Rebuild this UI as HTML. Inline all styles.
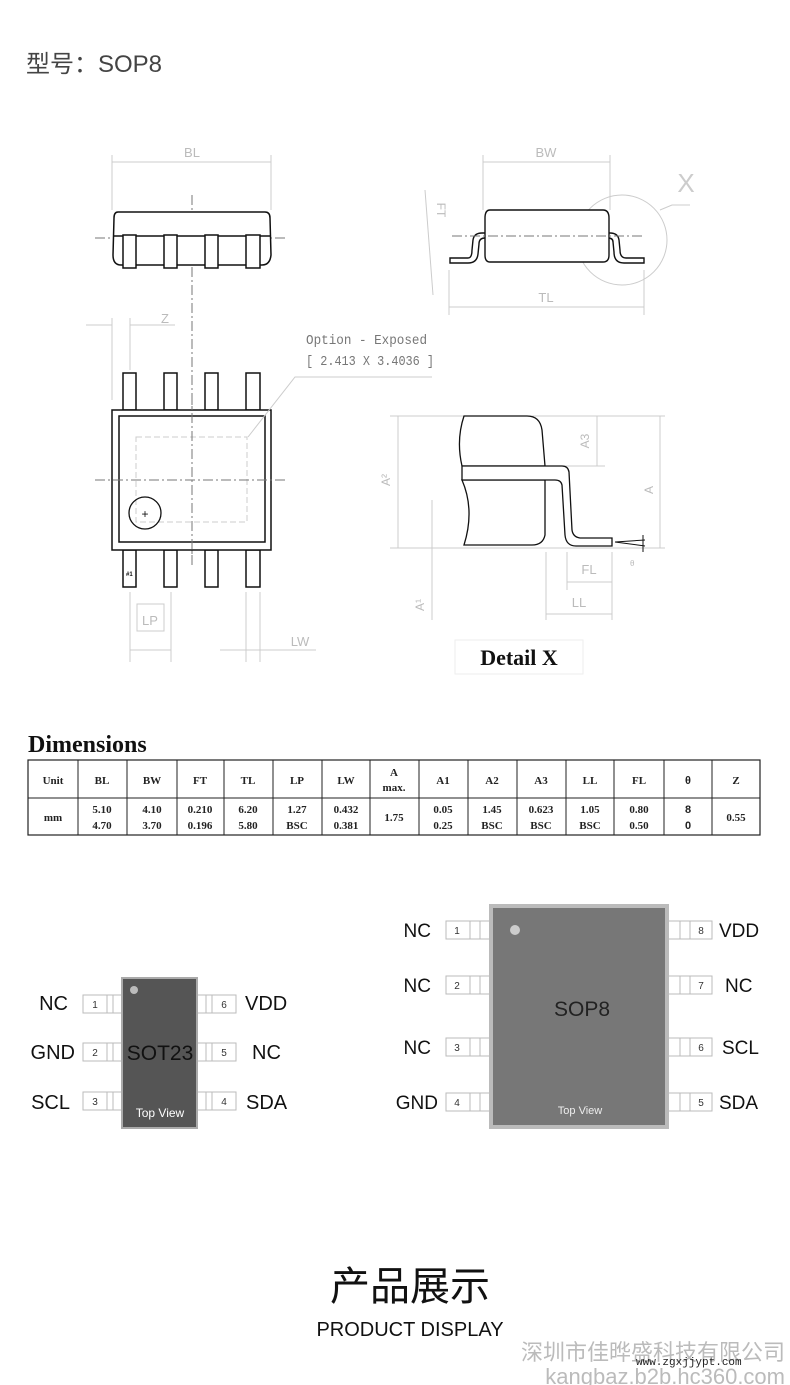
<!DOCTYPE html>
<html><head><meta charset="utf-8"><style>
html,body{margin:0;padding:0;background:#fff;}
svg{display:block}
</style></head><body>
<svg width="790" height="1385" viewBox="0 0 790 1385" xmlns="http://www.w3.org/2000/svg" font-family="Liberation Sans, sans-serif">
<text x="26" y="72" font-size="24" fill="#444" font-family="Liberation Sans, Noto Sans CJK SC, sans-serif">型号：SOP8</text>

<!-- ===== Top-left side view ===== -->
<g stroke="#ccc" stroke-width="1" fill="none">
<line x1="112" y1="155" x2="112" y2="210"/><line x1="271" y1="155" x2="271" y2="210"/>
<line x1="112" y1="162" x2="271" y2="162"/>
</g>
<text x="192" y="157" font-size="13" fill="#bbb" text-anchor="middle">BL</text>
<g stroke="#777" stroke-width="1" stroke-dasharray="10,3,2,3" fill="none">
<line x1="192" y1="195" x2="192" y2="565"/>
<line x1="95" y1="238" x2="288" y2="238"/>
<line x1="95" y1="480" x2="288" y2="480"/>
</g>
<g stroke="#111" stroke-width="1.5" fill="#fff">
<path d="M118 212 L265 212 Q270 212 270 218 L271 255 Q270 265 262 265 L121 265 Q113 265 113 255 L114 218 Q114 212 118 212 Z"/>
<line x1="114" y1="236" x2="270" y2="236"/>
<rect x="123" y="235" width="13" height="33"/><rect x="164" y="235" width="13" height="33"/>
<rect x="205" y="235" width="13" height="33"/><rect x="246" y="235" width="14" height="33"/>
</g>

<!-- Z dim -->
<g stroke="#ccc" stroke-width="1" fill="none">
<line x1="112" y1="318" x2="112" y2="400"/><line x1="130" y1="318" x2="130" y2="370"/>
<line x1="86" y1="325" x2="112" y2="325"/><line x1="130" y1="325" x2="175" y2="325"/>
</g>
<text x="165" y="323" font-size="13" fill="#bbb" text-anchor="middle">Z</text>

<!-- top view -->
<g stroke="#111" stroke-width="1.5" fill="#fff">
<rect x="123" y="373" width="13" height="37"/><rect x="164" y="373" width="13" height="37"/>
<rect x="205" y="373" width="13" height="37"/><rect x="246" y="373" width="14" height="37"/>
<rect x="123" y="550" width="13" height="37"/><rect x="164" y="550" width="13" height="37"/>
<rect x="205" y="550" width="13" height="37"/><rect x="246" y="550" width="14" height="37"/>
<rect x="112" y="410" width="159" height="140"/>
<rect x="119" y="416" width="146" height="126"/>
</g>
<rect x="136" y="437" width="111" height="85" fill="none" stroke="#ccc" stroke-dasharray="6,3"/>
<g stroke="#777" stroke-width="1" stroke-dasharray="10,3,2,3"><line x1="192" y1="395" x2="192" y2="565"/><line x1="95" y1="480" x2="288" y2="480"/></g>
<circle cx="145" cy="513" r="16" fill="none" stroke="#111" stroke-width="1.3"/>
<text x="145" y="518" font-size="12" text-anchor="middle" fill="#111">+</text>
<text x="126" y="576" font-size="6" fill="#111" font-weight="bold">#1</text>
<polyline points="248,437 295,377 432,377" fill="none" stroke="#ccc"/>
<text x="306" y="344" font-size="14" fill="#777" font-family="Liberation Mono, monospace" textLength="121" lengthAdjust="spacingAndGlyphs">Option - Exposed</text>
<text x="306" y="365" font-size="14" fill="#777" font-family="Liberation Mono, monospace" textLength="128" lengthAdjust="spacingAndGlyphs">[ 2.413 X 3.4036 ]</text>
<!-- LP LW -->
<g stroke="#ccc" stroke-width="1" fill="none">
<line x1="130" y1="592" x2="130" y2="662"/><line x1="171" y1="592" x2="171" y2="662"/>
<rect x="137" y="604" width="27" height="27"/>
<line x1="130" y1="650" x2="171" y2="650"/>
<line x1="246" y1="592" x2="246" y2="662"/><line x1="260" y1="592" x2="260" y2="662"/>
<line x1="220" y1="650" x2="316" y2="650"/>
</g>
<text x="150" y="625" font-size="13" fill="#bbb" text-anchor="middle">LP</text>
<text x="300" y="646" font-size="13" fill="#bbb" text-anchor="middle">LW</text>

<!-- ===== Right side view ===== -->
<g stroke="#ccc" stroke-width="1" fill="none">
<line x1="483" y1="155" x2="483" y2="210"/><line x1="610" y1="155" x2="610" y2="210"/>
<line x1="483" y1="162" x2="610" y2="162"/>
<line x1="449" y1="270" x2="449" y2="315"/><line x1="644" y1="270" x2="644" y2="315"/>
<line x1="449" y1="307" x2="644" y2="307"/>
<line x1="425" y1="190" x2="433" y2="295"/>
<circle cx="622" cy="240" r="45"/>
<polyline points="660,210 672,205 690,205"/>
</g>
<text x="546" y="157" font-size="13" fill="#bbb" text-anchor="middle">BW</text>
<text x="546" y="302" font-size="13" fill="#bbb" text-anchor="middle">TL</text>
<text x="686" y="192" font-size="26" fill="#ccc" text-anchor="middle">X</text>
<text x="437" y="210" font-size="12" fill="#bbb" transform="rotate(90 437 210)" text-anchor="middle">FT</text>
<g stroke="#111" stroke-width="1.4" fill="#fff">
<path d="M450 258 L468 258 Q472 258 472 250 L473 240 Q474 233 482 233 L610 233 Q618 233 619 240 L620 250 Q620 258 626 258 L644 258 L644 263 L624 263 Q614 263 614 252 L613 242 Q613 238 608 238 L485 238 Q479 238 479 244 L478 254 Q477 263 468 263 L450 263 Z"/>
<path d="M490 210 L603 210 Q609 210 609 218 L609 255 Q609 262 603 262 L490 262 Q485 262 485 255 L485 218 Q485 210 490 210 Z"/>
</g>
<line x1="452" y1="236" x2="645" y2="236" stroke="#777" stroke-dasharray="10,3,2,3"/>

<!-- Detail X -->
<g stroke="#ccc" stroke-width="1" fill="none">
<line x1="390" y1="416" x2="665" y2="416"/><line x1="390" y1="548" x2="665" y2="548"/>
<line x1="398" y1="416" x2="398" y2="548"/>
<line x1="545" y1="466" x2="605" y2="466"/>
<line x1="597" y1="416" x2="597" y2="466"/>
<line x1="660" y1="416" x2="660" y2="548"/>
<line x1="432" y1="500" x2="432" y2="620"/>
<line x1="567" y1="552" x2="567" y2="590"/><line x1="612" y1="552" x2="612" y2="620"/>
<line x1="567" y1="582" x2="612" y2="582"/>
<line x1="546" y1="552" x2="546" y2="620"/>
<line x1="546" y1="614" x2="612" y2="614"/>
</g>
<g font-size="12" fill="#bbb">
<text x="390" y="480" transform="rotate(-90 390 480)" text-anchor="middle">A²</text>
<text x="589" y="441" transform="rotate(-90 589 441)" text-anchor="middle">A3</text>
<text x="653" y="490" transform="rotate(-90 653 490)" text-anchor="middle">A</text>
<text x="424" y="605" transform="rotate(-90 424 605)" text-anchor="middle">A¹</text>
<text x="589" y="574" text-anchor="middle" font-size="13">FL</text>
<text x="579" y="607" text-anchor="middle" font-size="13">LL</text>
<text x="630" y="566" font-size="8">θ</text>
</g>
<g stroke="#111" stroke-width="1.3" fill="#fff">
<path d="M464 416 L527 416 Q540 416 542 430 L545 466 L462 466 Q456 440 464 416 Z"/>
<path d="M462 480 L545 480 L545 535 Q543 545 532 545 L464 545 Q475 510 462 480 Z"/>
<path d="M462 466 L562 466 Q568 466 569 472 L572 530 Q573 537 580 538 L612 538 L612 546 L576 546 Q566 546 565 535 L562 485 Q561 480 555 480 L462 480 Z"/>
</g>
<g stroke="#111" stroke-width="1" fill="none"><line x1="615" y1="542" x2="645" y2="540"/><line x1="615" y1="542" x2="645" y2="546"/><line x1="643" y1="535" x2="643" y2="552"/></g>
<rect x="455" y="640" width="128" height="34" fill="#fff" stroke="#eee"/>
<text x="519" y="665" font-size="22" font-weight="bold" text-anchor="middle" font-family="Liberation Serif, serif" fill="#111">Detail X</text>

<!-- Dimensions table -->
<text x="28" y="752" font-size="24" font-weight="bold" font-family="Liberation Serif, serif" fill="#111">Dimensions</text>
<g font-family="Liberation Serif, serif" font-size="11" font-weight="bold" fill="#222" text-anchor="middle">
<rect x="28" y="760" width="732" height="75" fill="none" stroke="#222" stroke-width="1.2"/>
<line x1="28" y1="798" x2="760" y2="798" stroke="#222"/>
<g stroke="#222">
<line x1="78" y1="760" x2="78" y2="835"/><line x1="127" y1="760" x2="127" y2="835"/><line x1="177" y1="760" x2="177" y2="835"/><line x1="224" y1="760" x2="224" y2="835"/><line x1="273" y1="760" x2="273" y2="835"/><line x1="322" y1="760" x2="322" y2="835"/><line x1="370" y1="760" x2="370" y2="835"/><line x1="419" y1="760" x2="419" y2="835"/><line x1="468" y1="760" x2="468" y2="835"/><line x1="517" y1="760" x2="517" y2="835"/><line x1="566" y1="760" x2="566" y2="835"/><line x1="614" y1="760" x2="614" y2="835"/><line x1="664" y1="760" x2="664" y2="835"/><line x1="712" y1="760" x2="712" y2="835"/>
</g>
<text x="53" y="784">Unit</text><text x="102" y="784">BL</text><text x="152" y="784">BW</text><text x="200" y="784">FT</text><text x="248" y="784">TL</text><text x="297" y="784">LP</text><text x="346" y="784">LW</text>
<text x="394" y="776">A</text><text x="394" y="791">max.</text>
<text x="443" y="784">A1</text><text x="492" y="784">A2</text><text x="541" y="784">A3</text><text x="590" y="784">LL</text><text x="639" y="784">FL</text><text x="688" y="784" font-family="Liberation Sans, sans-serif">θ</text><text x="736" y="784">Z</text>
<text x="53" y="821">mm</text>
<text x="102" y="813">5.10</text><text x="102" y="829">4.70</text>
<text x="152" y="813">4.10</text><text x="152" y="829">3.70</text>
<text x="200" y="813">0.210</text><text x="200" y="829">0.196</text>
<text x="248" y="813">6.20</text><text x="248" y="829">5.80</text>
<text x="297" y="813">1.27</text><text x="297" y="829">BSC</text>
<text x="346" y="813">0.432</text><text x="346" y="829">0.381</text>
<text x="394" y="821">1.75</text>
<text x="443" y="813">0.05</text><text x="443" y="829">0.25</text>
<text x="492" y="813">1.45</text><text x="492" y="829">BSC</text>
<text x="541" y="813">0.623</text><text x="541" y="829">BSC</text>
<text x="590" y="813">1.05</text><text x="590" y="829">BSC</text>
<text x="639" y="813">0.80</text><text x="639" y="829">0.50</text>
<text x="688" y="813" font-family="Liberation Sans, sans-serif">8</text><text x="688" y="829" font-family="Liberation Sans, sans-serif">0</text>
<text x="736" y="821">0.55</text>
</g>

<!-- SOT23 -->
<g stroke="#bbb" fill="#fff" stroke-width="1">
<rect x="83" y="995" width="40" height="18"/><line x1="107" y1="995" x2="107" y2="1013"/><line x1="113" y1="995" x2="113" y2="1013"/>
<rect x="83" y="1043" width="40" height="18"/><line x1="107" y1="1043" x2="107" y2="1061"/><line x1="113" y1="1043" x2="113" y2="1061"/>
<rect x="83" y="1092" width="40" height="18"/><line x1="107" y1="1092" x2="107" y2="1110"/><line x1="113" y1="1092" x2="113" y2="1110"/>
<rect x="196" y="995" width="40" height="18"/><line x1="212" y1="995" x2="212" y2="1013"/><line x1="206" y1="995" x2="206" y2="1013"/>
<rect x="196" y="1043" width="40" height="18"/><line x1="212" y1="1043" x2="212" y2="1061"/><line x1="206" y1="1043" x2="206" y2="1061"/>
<rect x="196" y="1092" width="40" height="18"/><line x1="212" y1="1092" x2="212" y2="1110"/><line x1="206" y1="1092" x2="206" y2="1110"/>
</g>
<rect x="122" y="978" width="75" height="150" fill="#555" stroke="#aaa" stroke-width="2"/>
<circle cx="134" cy="990" r="4" fill="#bbb"/>
<text x="160" y="1060" font-size="21" text-anchor="middle" fill="#111">SOT23</text>
<text x="160" y="1117" font-size="12" text-anchor="middle" fill="#fff">Top View</text>
<g font-size="10" fill="#333" text-anchor="middle">
<text x="95" y="1008">1</text><text x="95" y="1056">2</text><text x="95" y="1105">3</text>
<text x="224" y="1008">6</text><text x="224" y="1056">5</text><text x="224" y="1105">4</text>
</g>
<g font-size="20" fill="#111">
<text x="68" y="1010" text-anchor="end">NC</text><text x="75" y="1059" text-anchor="end">GND</text><text x="70" y="1109" text-anchor="end">SCL</text>
<text x="245" y="1010">VDD</text><text x="252" y="1059">NC</text><text x="246" y="1109">SDA</text>
</g>

<!-- SOP8 -->
<g stroke="#bbb" fill="#fff" stroke-width="1">
<rect x="446" y="921" width="46" height="18"/><line x1="470" y1="921" x2="470" y2="939"/><line x1="480" y1="921" x2="480" y2="939"/>
<rect x="446" y="976" width="46" height="18"/><line x1="470" y1="976" x2="470" y2="994"/><line x1="480" y1="976" x2="480" y2="994"/>
<rect x="446" y="1038" width="46" height="18"/><line x1="470" y1="1038" x2="470" y2="1056"/><line x1="480" y1="1038" x2="480" y2="1056"/>
<rect x="446" y="1093" width="46" height="18"/><line x1="470" y1="1093" x2="470" y2="1111"/><line x1="480" y1="1093" x2="480" y2="1111"/>
<rect x="666" y="921" width="46" height="18"/><line x1="690" y1="921" x2="690" y2="939"/><line x1="680" y1="921" x2="680" y2="939"/>
<rect x="666" y="976" width="46" height="18"/><line x1="690" y1="976" x2="690" y2="994"/><line x1="680" y1="976" x2="680" y2="994"/>
<rect x="666" y="1038" width="46" height="18"/><line x1="690" y1="1038" x2="690" y2="1056"/><line x1="680" y1="1038" x2="680" y2="1056"/>
<rect x="666" y="1093" width="46" height="18"/><line x1="690" y1="1093" x2="690" y2="1111"/><line x1="680" y1="1093" x2="680" y2="1111"/>
</g>
<rect x="491" y="906" width="176" height="221" fill="#777" stroke="#bbb" stroke-width="4"/>
<circle cx="515" cy="930" r="5" fill="#ccc"/>
<text x="582" y="1016" font-size="21" text-anchor="middle" fill="#222">SOP8</text>
<text x="580" y="1114" font-size="11" text-anchor="middle" fill="#eee">Top View</text>
<g font-size="10" fill="#333" text-anchor="middle">
<text x="457" y="934">1</text><text x="457" y="989">2</text><text x="457" y="1051">3</text><text x="457" y="1106">4</text>
<text x="701" y="934">8</text><text x="701" y="989">7</text><text x="701" y="1051">6</text><text x="701" y="1106">5</text>
</g>
<g font-size="19" fill="#111">
<text x="431" y="937" text-anchor="end">NC</text><text x="431" y="992" text-anchor="end">NC</text><text x="431" y="1054" text-anchor="end">NC</text><text x="438" y="1109" text-anchor="end">GND</text>
<text x="719" y="937">VDD</text><text x="725" y="992">NC</text><text x="722" y="1054">SCL</text><text x="719" y="1109">SDA</text>
</g>

<!-- bottom -->
<text x="410" y="1300" font-size="40" text-anchor="middle" fill="#111" font-family="Liberation Sans, Noto Sans CJK SC, sans-serif">产品展示</text>
<text x="410" y="1336" font-size="20" text-anchor="middle" fill="#111">PRODUCT DISPLAY</text>
<text x="785" y="1360" font-size="22" text-anchor="end" fill="#bbb" font-family="Liberation Sans, Noto Sans CJK SC, sans-serif">深圳市佳晔盛科技有限公司</text>
<text x="785" y="1384" font-size="22" text-anchor="end" fill="#bbb">kangbaz.b2b.hc360.com</text>
<text x="636" y="1365" font-size="11" fill="#222" font-family="Liberation Mono, monospace">www.zgxjjypt.com</text>
</svg>
</body></html>
